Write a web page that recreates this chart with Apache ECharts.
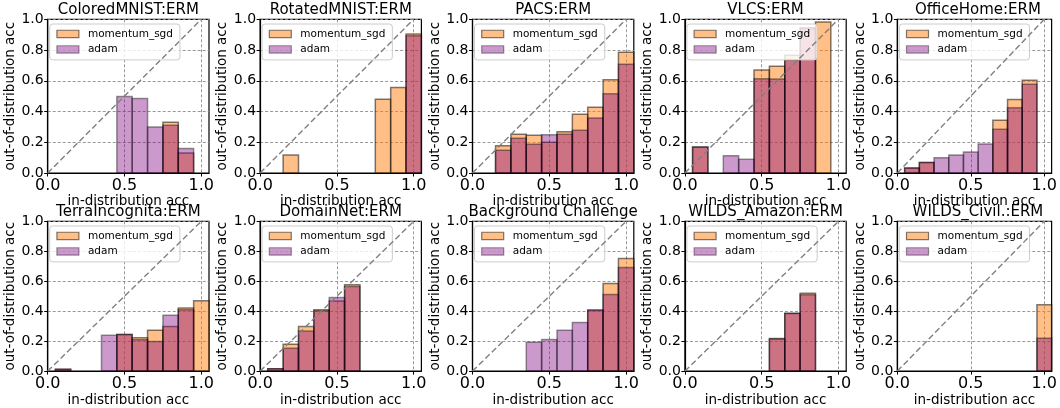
<!DOCTYPE html>
<html>
<head>
<meta charset="utf-8">
<script src="https://cdn.jsdelivr.net/npm/echarts@6/dist/echarts.min.js"></script>
<style>
  html, body { margin: 0; padding: 0; background: #ffffff; }
  #chart { width: 1060px; height: 408px; }
</style>
</head>
<body>
<div id="chart"></div>
<script>
// Accuracy bins (bin centres on the in-distribution axis)
const BIN_CENTERS = [0.1, 0.2, 0.3, 0.4, 0.5, 0.6, 0.7, 0.8, 0.9, 1.0];
const BIN_WIDTH = 0.1;

const PANEL_TITLES = [
  'ColoredMNIST:ERM', 'RotatedMNIST:ERM', 'PACS:ERM', 'VLCS:ERM', 'OfficeHome:ERM',
  'TerraIncognita:ERM', 'DomainNet:ERM', 'Background Challenge', 'WILDS_Amazon:ERM', 'WILDS_Civil.:ERM'
];
const SERIES_NAMES = ['momentum_sgd', 'adam'];
const X_TICKS = [0, 0.5, 1.0];

// Mean out-of-distribution accuracy per bin (null = empty bin)
const coloredMnistSgd   = [null, null, null, null, null, null, null, 0.33, 0.13, null];
const coloredMnistAdam  = [null, null, null, null, 0.497, 0.484, 0.30, 0.31, 0.16, null];
const rotatedMnistSgd   = [null, 0.117, null, null, null, null, null, 0.48, 0.557, 0.905];
const rotatedMnistAdam  = [null, null, null, null, null, null, null, null, null, 0.893];
const pacsSgd           = [null, 0.178, 0.252, 0.245, 0.20, 0.269, 0.382, 0.427, 0.607, 0.785];
const pacsAdam          = [null, 0.148, 0.226, 0.187, 0.249, 0.252, 0.278, 0.358, 0.516, 0.707];
const vlcsSgd           = [0.169, null, null, null, 0.67, 0.694, 0.766, 0.945, 0.983, null];
const vlcsAdam          = [0.169, null, 0.113, 0.089, 0.614, 0.612, 0.733, 0.94, null, null];
const officeHomeSgd     = [0.033, 0.069, null, null, null, null, 0.343, 0.479, 0.603, null];
const officeHomeAdam    = [0.033, 0.069, 0.10, 0.117, 0.137, 0.189, 0.284, 0.425, 0.577, null];
const terraSgd          = [0.012, null, null, null, 0.245, 0.223, 0.273, 0.297, 0.421, 0.469];
const terraAdam         = [0.012, null, null, 0.239, 0.245, 0.21, 0.197, 0.373, 0.41, null];
const domainNetSgd      = [0.016, 0.18, 0.297, 0.41, 0.468, 0.577, null, null, null, null];
const domainNetAdam     = [0.016, 0.152, 0.267, 0.403, 0.492, 0.564, null, null, null, null];
const backgroundSgd     = [null, null, null, null, null, null, null, 0.405, 0.585, 0.752];
const backgroundAdam    = [null, null, null, 0.193, 0.211, 0.273, 0.325, 0.41, 0.512, 0.692];
const amazonSgd         = [null, null, null, null, null, 0.217, 0.387, 0.52, null, null];
const amazonAdam        = [null, null, null, null, null, 0.215, 0.385, 0.509, null, null];
const civilSgd          = [null, null, null, null, null, null, null, null, null, 0.443];
const civilAdam         = [null, null, null, null, null, null, null, null, null, 0.22];

const SGD_VALUES = [coloredMnistSgd, rotatedMnistSgd, pacsSgd, vlcsSgd, officeHomeSgd,
                    terraSgd, domainNetSgd, backgroundSgd, amazonSgd, civilSgd];
const ADAM_VALUES = [coloredMnistAdam, rotatedMnistAdam, pacsAdam, vlcsAdam, officeHomeAdam,
                     terraAdam, domainNetAdam, backgroundAdam, amazonAdam, civilAdam];

// Layout
const FONT = 'DejaVu Sans';
const GRID_W = 161.3, GRID_H = 153.7;
const COL_LEFT = [47.7, 260.1, 472.5, 684.9, 897.3];
const ROW_TOP = [19.3, 221.3];

const STYLES = {
  momentum_sgd: { fill: 'rgba(255,127,14,0.5)', stroke: 'rgba(0,0,0,0.5)' },
  adam:         { fill: 'rgba(128,0,128,0.4)',  stroke: 'rgba(0,0,0,0.4)' }
};

function barRenderer(style) {
  return function (params, api) {
    const c = api.value(0), v = api.value(1);
    const topLeft = api.coord([c - BIN_WIDTH / 2, v]);
    const bottomRight = api.coord([c + BIN_WIDTH / 2, 0]);
    return {
      type: 'rect',
      shape: { x: topLeft[0], y: topLeft[1], width: bottomRight[0] - topLeft[0], height: bottomRight[1] - topLeft[1] },
      style: { fill: style.fill, stroke: style.stroke, lineWidth: 1.5 }
    };
  };
}

function toPoints(values) {
  const pts = [];
  values.forEach((v, k) => { if (v !== null) pts.push([BIN_CENTERS[k], v]); });
  return pts;
}

const grids = [], xAxes = [], yAxes = [], series = [], legends = [], graphics = [];

PANEL_TITLES.forEach((title, i) => {
  const left = COL_LEFT[i % 5];
  const top = ROW_TOP[Math.floor(i / 5)];

  grids.push({ left: left, top: top, width: GRID_W, height: GRID_H, show: true,
               borderColor: '#000', borderWidth: 1.2, backgroundColor: 'transparent' });

  xAxes.push({
    gridIndex: i, type: 'value', min: 0, max: 1.05, interval: 0.5,
    axisLine: { show: true, onZero: false, lineStyle: { color: '#000', width: 1.2 } },
    axisTick: { show: true, length: 3.5, customValues: X_TICKS, lineStyle: { color: '#000', width: 1 } },
    axisLabel: { fontSize: 16, color: '#000', fontFamily: FONT, margin: 5, customValues: X_TICKS,
                 formatter: v => v.toFixed(1) },
    splitLine: { show: true, lineStyle: { color: '#8c8c8c', width: 0.9, type: [3, 2] } },
    name: 'in-distribution acc', nameLocation: 'middle', nameGap: 20,
    nameTextStyle: { fontSize: 13.5, color: '#000', fontFamily: FONT }
  });

  yAxes.push({
    gridIndex: i, type: 'value', min: 0, max: 1, interval: 0.2,
    axisLine: { show: true, onZero: false, lineStyle: { color: '#000', width: 1.2 } },
    axisTick: { show: true, length: 3.5, lineStyle: { color: '#000', width: 1 } },
    axisLabel: { fontSize: 14, color: '#000', fontFamily: FONT, margin: 4, formatter: v => v.toFixed(1) },
    splitLine: { show: true, lineStyle: { color: '#8c8c8c', width: 0.9, type: [3, 2] } },
    name: 'out-of-distribution acc', nameLocation: 'middle', nameRotate: 90, nameGap: 27,
    nameTextStyle: { fontSize: 13.5, color: '#000', fontFamily: FONT }
  });

  series.push({
    type: 'custom', name: 'momentum_sgd', xAxisIndex: i, yAxisIndex: i, z: 2,
    renderItem: barRenderer(STYLES.momentum_sgd), data: toPoints(SGD_VALUES[i]),
    itemStyle: { color: STYLES.momentum_sgd.fill }, silent: true
  });
  series.push({
    type: 'custom', name: 'adam', xAxisIndex: i, yAxisIndex: i, z: 3,
    renderItem: barRenderer(STYLES.adam), data: toPoints(ADAM_VALUES[i]),
    itemStyle: { color: STYLES.adam.fill }, silent: true
  });
  // y = x reference diagonal
  series.push({
    type: 'line', xAxisIndex: i, yAxisIndex: i, z: 4, silent: true,
    data: [[0, 0], [1, 1]], symbol: 'none',
    lineStyle: { color: '#808080', width: 1.4, type: [6, 3] }
  });

  legends.push({
    left: left + 2, top: top + 4.7, orient: 'vertical', icon: 'rect',
    itemWidth: 22, itemHeight: 7.3, itemGap: 4.5, selectedMode: false,
    data: SERIES_NAMES.map(n => ({
      name: n,
      itemStyle: { color: STYLES[n].fill, borderColor: STYLES[n].stroke, borderWidth: 1.2 }
    })),
    textStyle: { fontSize: 10.5, color: '#000', fontFamily: FONT, padding: [0, 0, 0, 4] },
    backgroundColor: 'rgba(255,255,255,0.8)', borderColor: '#cccccc', borderWidth: 1,
    borderRadius: 3, padding: [4.4, 7, 5, 6.6]
  });

  graphics.push({
    type: 'text', x: left + GRID_W / 2, y: top - 1.8,
    style: { text: title, align: 'center', verticalAlign: 'bottom',
             font: '15px "' + FONT + '"', fill: '#000' }
  });
});

const chart = echarts.init(document.getElementById('chart'), null, { renderer: 'canvas' });
chart.setOption({
  animation: false,
  backgroundColor: '#ffffff',
  grid: grids,
  xAxis: xAxes,
  yAxis: yAxes,
  legend: legends,
  series: series,
  graphic: graphics
});
</script>
</body>
</html>
